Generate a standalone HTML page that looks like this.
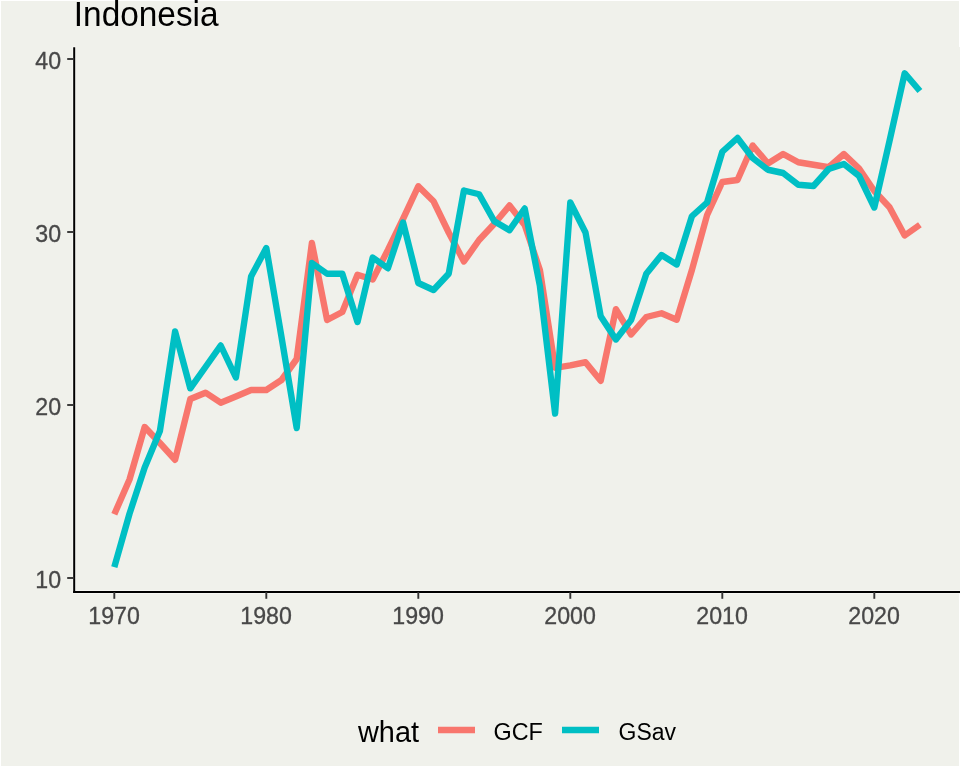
<!DOCTYPE html>
<html><head><meta charset="utf-8"><title>Indonesia</title>
<style>
html,body{margin:0;padding:0;background:#fff;}
body{width:960px;height:768px;overflow:hidden;}
svg{display:block;font-family:"Liberation Sans",Arial,sans-serif;}
</style></head><body>
<svg width="960" height="768" viewBox="0 0 960 768">
<rect x="0" y="0" width="960" height="768" fill="#ffffff"/>
<rect x="1" y="1" width="958" height="765" fill="#F0F1EB"/>
<rect x="73.2" y="47" width="887" height="546" fill="#F0F1EB"/>
<text transform="translate(73.8,25.9) scale(1,1.03)" font-size="33.4" fill="#000">Indonesia</text>
<g fill="none" stroke-width="6.4" stroke-linejoin="round" stroke-linecap="butt">
<polyline stroke="#F8766D" points="114.3,514.25 129.5,479.50 144.7,427.00 159.9,443.00 175.1,459.75 190.3,399.00 205.5,392.70 220.7,402.70 235.9,396.50 251.1,390.00 266.3,390.00 281.5,380.00 296.7,359.00 311.9,243.00 327.1,320.00 342.3,312.00 357.5,274.75 372.7,279.50 387.9,250.00 403.1,218.75 418.3,186.25 433.5,201.25 448.7,232.50 463.9,261.50 479.1,240.00 494.3,223.75 509.5,205.50 524.7,225.00 539.9,270.00 555.1,367.80 570.3,365.30 585.5,362.25 600.7,380.75 615.9,309.25 631.1,334.50 646.3,317.00 661.5,313.25 676.7,319.75 691.9,270.00 707.1,215.00 722.3,182.00 737.5,180.00 752.7,145.50 767.9,163.50 783.1,154.00 798.3,162.25 813.5,164.75 828.7,167.25 843.9,154.00 859.1,168.50 874.3,191.00 889.5,207.25 904.7,235.50 919.9,224.75"/>
<polyline stroke="#00BFC4" points="114.3,567.10 129.5,513.75 144.7,467.50 159.9,431.00 175.1,331.50 190.3,388.30 205.5,367.00 220.7,345.50 235.9,377.50 251.1,276.50 266.3,248.00 281.5,337.00 296.7,428.00 311.9,263.00 327.1,273.75 342.3,273.75 357.5,322.00 372.7,257.50 387.9,268.25 403.1,222.50 418.3,283.00 433.5,290.00 448.7,273.75 463.9,190.50 479.1,194.25 494.3,221.25 509.5,230.25 524.7,208.50 539.9,286.00 555.1,413.50 570.3,202.50 585.5,232.50 600.7,316.25 615.9,339.50 631.1,320.00 646.3,273.75 661.5,255.00 676.7,264.50 691.9,216.25 707.1,202.50 722.3,151.75 737.5,138.00 752.7,158.00 767.9,169.75 783.1,173.00 798.3,184.75 813.5,186.00 828.7,169.00 843.9,164.00 859.1,176.00 874.3,207.50 889.5,141.00 904.7,73.25 919.9,91.00"/>
</g>
<g stroke="#FBFBF8" stroke-width="3.6" fill="none" opacity="0.8">
<line x1="74.2" y1="46.6" x2="74.2" y2="593"/>
<line x1="73.2" y1="592" x2="960" y2="592"/>
</g>
<g stroke="#000" stroke-width="2" fill="none">
<line x1="74.2" y1="47.2" x2="74.2" y2="593"/>
<line x1="73.2" y1="592" x2="960" y2="592"/>
</g>
<g stroke="#333333" stroke-width="1.9"><line x1="114.3" y1="592" x2="114.3" y2="598.8"/><line x1="266.3" y1="592" x2="266.3" y2="598.8"/><line x1="418.3" y1="592" x2="418.3" y2="598.8"/><line x1="570.3" y1="592" x2="570.3" y2="598.8"/><line x1="722.3" y1="592" x2="722.3" y2="598.8"/><line x1="874.3" y1="592" x2="874.3" y2="598.8"/><line x1="67.2" y1="59" x2="74.2" y2="59"/><line x1="67.2" y1="232" x2="74.2" y2="232"/><line x1="67.2" y1="405" x2="74.2" y2="405"/><line x1="67.2" y1="578" x2="74.2" y2="578"/></g>
<g font-size="23.2" fill="#484848" stroke="#484848" stroke-width="0.3"><text transform="translate(114.1,623.8) scale(1,1.035)" text-anchor="middle">1970</text><text transform="translate(266.1,623.8) scale(1,1.035)" text-anchor="middle">1980</text><text transform="translate(418.1,623.8) scale(1,1.035)" text-anchor="middle">1990</text><text transform="translate(570.1,623.8) scale(1,1.035)" text-anchor="middle">2000</text><text transform="translate(722.1,623.8) scale(1,1.035)" text-anchor="middle">2010</text><text transform="translate(874.1,623.8) scale(1,1.035)" text-anchor="middle">2020</text><text transform="translate(61.1,69.0) scale(1,1.035)" text-anchor="end">40</text><text transform="translate(61.1,242.0) scale(1,1.035)" text-anchor="end">30</text><text transform="translate(61.1,415.0) scale(1,1.035)" text-anchor="end">20</text><text transform="translate(61.1,588.0) scale(1,1.035)" text-anchor="end">10</text></g>
<text x="358" y="741.5" font-size="28.9" fill="#000">what</text>
<line x1="438" y1="730" x2="475" y2="730" stroke="#F8766D" stroke-width="6.4"/>
<text transform="translate(493.5,740) scale(1,1.04)" font-size="23.4" fill="#000">GCF</text>
<line x1="562" y1="730" x2="599" y2="730" stroke="#00BFC4" stroke-width="6.4"/>
<text transform="translate(618.5,740) scale(1,1.04)" font-size="23" fill="#000">GSav</text>
</svg>
</body></html>
